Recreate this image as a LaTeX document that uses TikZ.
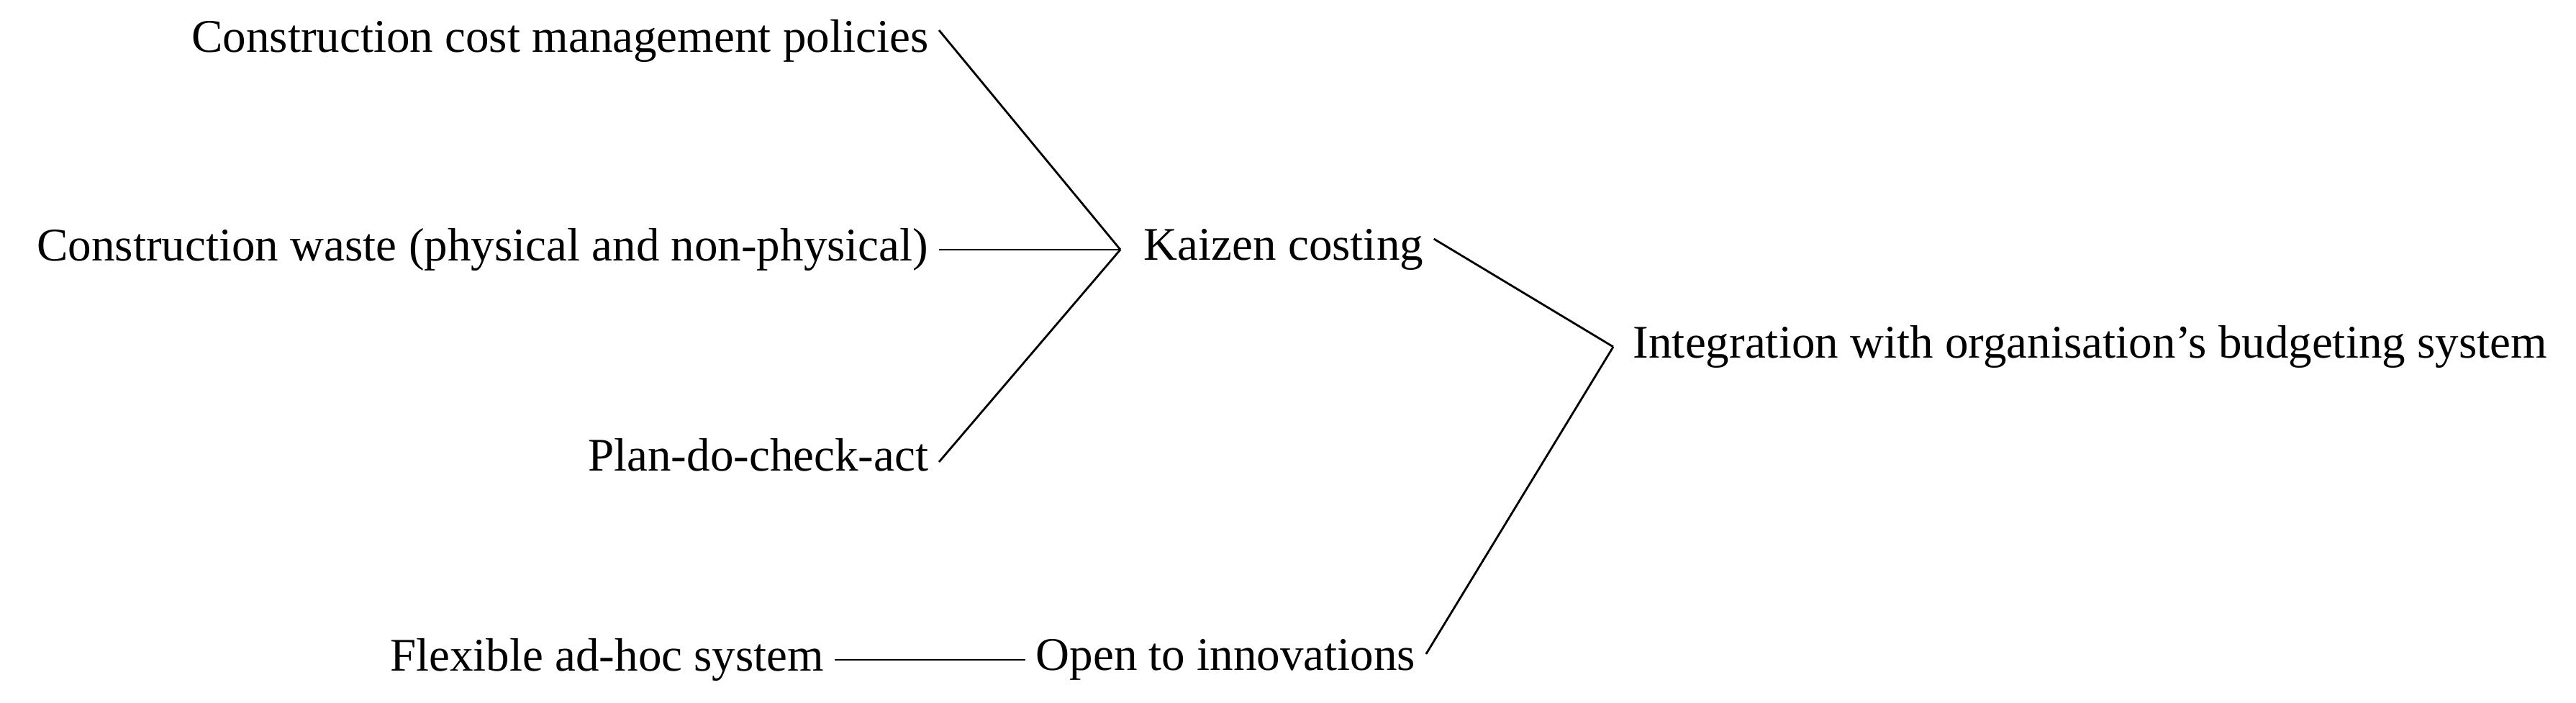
\documentclass[tikz,border=0pt]{standalone}
\usepackage{fontspec}
\setmainfont{Liberation Serif}
\usetikzlibrary{positioning}
\begin{document}
\begin{tikzpicture}[
    factor/.style = {inner sep=4pt, font=\fontsize{18.5}{22}\selectfont},
    link/.style = {thick}
]
\useasboundingbox (0,0) rectangle (35.8,9.77);

% Nodes
\node (policies) [factor, anchor=east] at (13.05,9.20) {Construction cost management policies};
\node (waste) [factor, anchor=east] at (13.05,6.30) {Construction waste (physical and non-physical)};
\node (pdca) [factor, anchor=east] at (13.05,3.45) {Plan-do-check-act};
\node (flexible) [factor, anchor=east] at (11.6,0.60) {Flexible ad-hoc system};
\node (kaizen) [factor, anchor=west] at (15.75,6.30) {Kaizen costing};
\node (open) [factor, anchor=west] at (14.25,0.60) {Open to innovations};
\node (budget) [factor, anchor=west] at (22.55,4.95) {Integration with organisation's budgeting system};

\coordinate (kin) at (15.57,6.30);
\coordinate (bin) at (22.42,4.95);

% Edges
\draw [link] (policies.east) ++(0,0.15) -- (kin);
\draw [link] (waste.east) -- (kin);
\draw [link] (pdca.east) ++(0,-0.1) -- (kin);
\draw [link] (flexible) -- (open);
\draw [link] (kaizen.east) ++(0,0.15) -- (bin);
\draw [link] (open.east) ++(0,0.08) -- (bin);

\end{tikzpicture}
\end{document}
